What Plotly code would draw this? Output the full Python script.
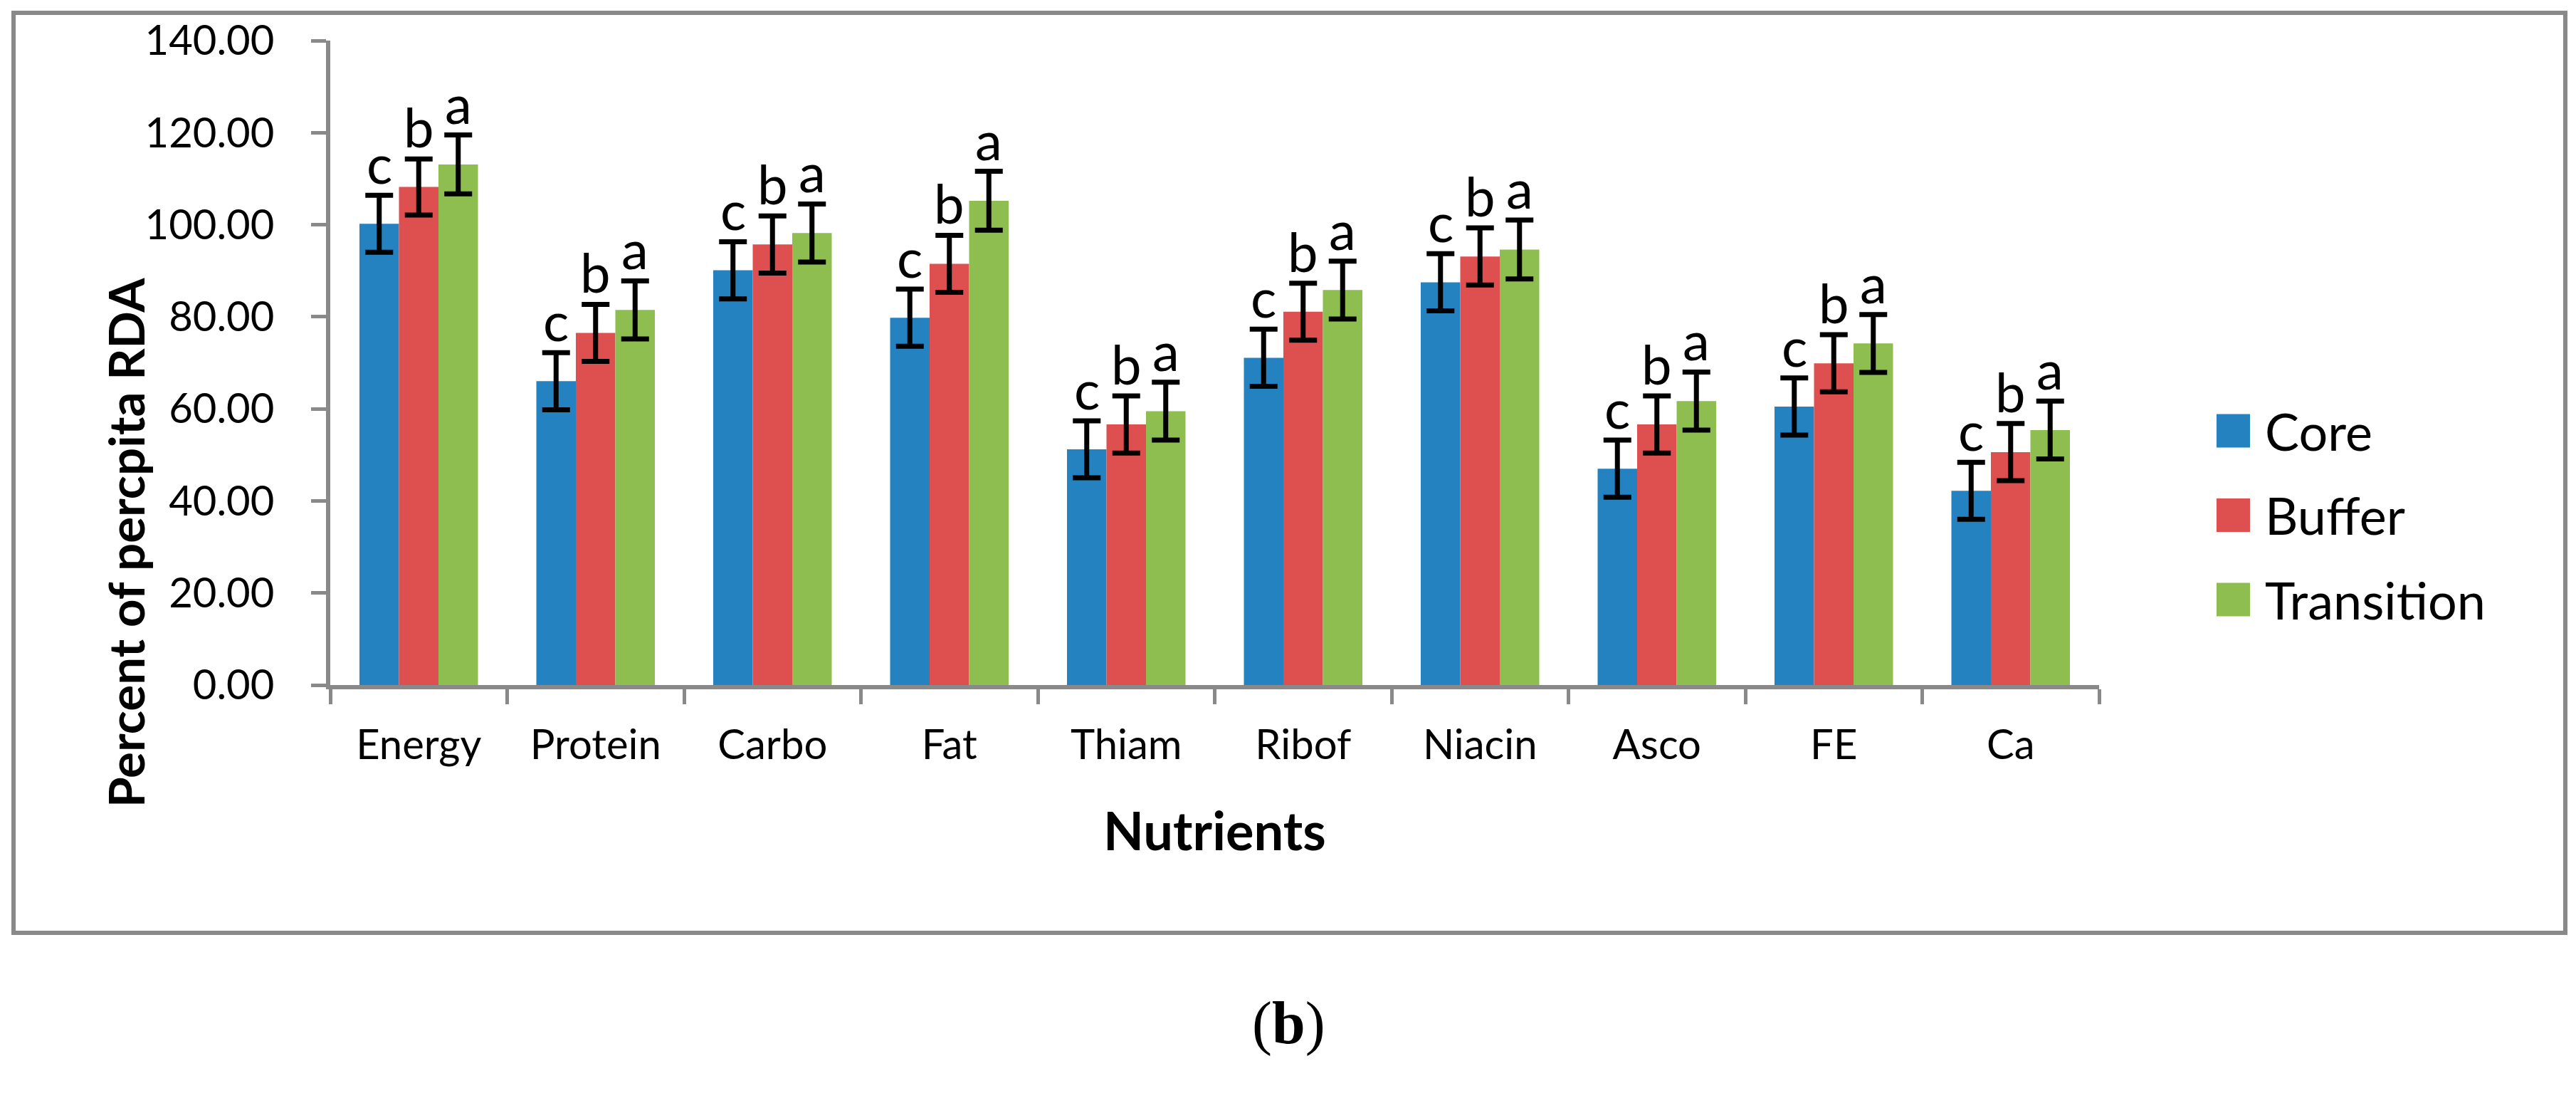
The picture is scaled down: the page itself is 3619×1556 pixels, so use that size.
import plotly.graph_objects as go

# ---------------- data ----------------
categories = ["Energy", "Protein", "Carbo", "Fat", "Thiam", "Ribof", "Niacin", "Asco", "FE", "Ca"]
series_names = ["Core", "Buffer", "Transition"]

core = [100.2, 66.0, 90.1, 79.8, 51.2, 71.1, 87.5, 47.0, 60.5, 42.2]
buffer = [108.2, 76.5, 95.7, 91.5, 56.6, 81.1, 93.1, 56.6, 69.9, 50.6]
transition = [113.1, 81.5, 98.2, 105.2, 59.5, 85.8, 94.6, 61.7, 74.2, 55.4]

core_err = [6.2, 6.2, 6.2, 6.2, 6.2, 6.2, 6.2, 6.2, 6.2, 6.2]
buffer_err = [6.1, 6.2, 6.2, 6.2, 6.2, 6.2, 6.2, 6.2, 6.2, 6.2]
transition_err = [6.4, 6.3, 6.3, 6.4, 6.3, 6.3, 6.4, 6.3, 6.3, 6.3]

core_letters = ["c"] * 10
buffer_letters = ["b"] * 10
transition_letters = ["a"] * 10

y_ticks = [0, 20, 40, 60, 80, 100, 120, 140]

# ---------------- style ----------------
colors = ["#2582C0", "#DE5050", "#8FBE50"]
GRAY = "#898989"
FONT = "Lato"

W, H = 3619, 1556
ML, MR, MT, MB = 464, 670, 57, 594
PLOT_W = W - ML - MR
PLOT_H = H - MT - MB
BARGAP = 0.33


def px_x(px):
    return (px - ML) / PLOT_W


def px_y(py):
    return (H - MB - py) / PLOT_H


values = [core, buffer, transition]
errors = [core_err, buffer_err, transition_err]
letters = [core_letters, buffer_letters, transition_letters]

fig = go.Figure()
for name, vals, errs, col in zip(series_names, values, errors, colors):
    fig.add_trace(go.Bar(
        name=name, x=categories, y=vals, marker=dict(color=col, line=dict(width=0)),
        error_y=dict(type="data", array=errs, visible=True, color="black",
                     thickness=7, width=19.5),
        showlegend=False,
    ))

annotations = []
cat_px = PLOT_W / len(categories)
bar_px = cat_px * (1 - BARGAP) / len(series_names)
for k, (vals, errs, lets) in enumerate(zip(values, errors, letters)):
    shift = (k - (len(series_names) - 1) / 2) * bar_px
    for c, v, e, t in zip(categories, vals, errs, lets):
        annotations.append(dict(
            x=c, y=v + e, xref="x", yref="y", text=t, showarrow=False,
            xanchor="center", yanchor="bottom", xshift=shift, yshift=-2,
            font=dict(family=FONT, size=76, color="black"),
        ))

# custom legend (large squares like the reference)
shapes = []
for i, (name, col) in enumerate(zip(series_names, colors)):
    cy = 605 + i * 118.5
    shapes.append(dict(type="rect", xref="paper", yref="paper",
                       x0=px_x(3114), x1=px_x(3161), y0=px_y(cy + 23.5), y1=px_y(cy - 23.5),
                       fillcolor=col, line=dict(width=0)))
    annotations.append(dict(x=px_x(3180), y=px_y(cy), xref="paper", yref="paper",
                            text=name, showarrow=False, xanchor="left", yanchor="middle",
                            font=dict(family=FONT, size=72, color="black")))

# outer chart border
shapes.append(dict(type="rect", xref="paper", yref="paper",
                   x0=px_x(19), x1=px_x(3604), y0=px_y(1310), y1=px_y(18),
                   line=dict(color=GRAY, width=6), fillcolor="rgba(0,0,0,0)", layer="below"))

# titles
annotations.append(dict(x=px_x(176), y=px_y(762), xref="paper", yref="paper",
                        text="Percent of percpita RDA", textangle=-90, showarrow=False,
                        xanchor="center", yanchor="middle",
                        font=dict(family=FONT, size=69, color="black", weight="bold")))
annotations.append(dict(x=px_x(1706), y=px_y(1165), xref="paper", yref="paper",
                        text="Nutrients", showarrow=False, xanchor="center", yanchor="middle",
                        font=dict(family=FONT, size=74, color="black", weight="bold")))
annotations.append(dict(x=px_x(1810), y=px_y(1437), xref="paper", yref="paper",
                        text="(<b>b</b>)", showarrow=False, xanchor="center", yanchor="middle",
                        font=dict(family="Liberation Serif", size=84, color="black")))

fig.update_layout(
    width=W, height=H, autosize=False,
    margin=dict(l=ML, r=MR, t=MT, b=MB, pad=0),
    paper_bgcolor="white", plot_bgcolor="white",
    barmode="group", bargap=BARGAP, bargroupgap=0,
    showlegend=False,
    annotations=annotations, shapes=shapes,
    font=dict(family=FONT, color="black"),
)
fig.update_xaxes(
    showline=True, linecolor=GRAY, linewidth=6,
    ticks="outside", tickson="boundaries", ticklen=21, tickwidth=5, tickcolor=GRAY,
    tickfont=dict(family=FONT, size=58, color="black"), ticklabelstandoff=28,
    showgrid=False, zeroline=False,
)
fig.update_yaxes(
    range=[0, 140], tickvals=y_ticks, tickformat=".2f",
    showline=True, linecolor=GRAY, linewidth=6,
    ticks="outside", ticklen=21, tickwidth=5, tickcolor=GRAY,
    tickfont=dict(family=FONT, size=58, color="black"), ticklabelstandoff=40,
    showgrid=False, zeroline=False,
)

fig.write_html("out.html", config={"displayModeBar": False},
               post_script="document.body.style.margin='0';document.body.style.overflow='hidden';")
